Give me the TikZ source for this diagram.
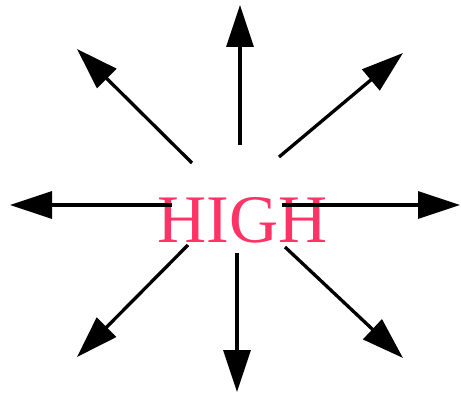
\documentclass[tikz,border=0pt]{standalone}
\usepackage{fontspec}
\setmainfont{Liberation Serif}
\usetikzlibrary{arrows.meta}
\definecolor{highpink}{HTML}{FF3366}

\begin{document}
\begin{tikzpicture}[
  x=1pt, y=-1pt,
  word/.style={anchor=base, inner sep=0pt, text=highpink, font=\fontsize{68}{68}\selectfont},
  ray/.style={->, line width=3.3pt},
  >={Triangle[length=42pt,width=27pt]}
]
\useasboundingbox (0,0) rectangle (461,396);
\node[word] (high) at (242.5,242) {HIGH};
% ray start and end points
\coordinate (nfrom) at (240,145); \coordinate (nto) at (240,5);
\coordinate (nefrom) at (279,157); \coordinate (neto) at (403,53);
\coordinate (efrom) at (282,205); \coordinate (eto) at (460,205);
\coordinate (sefrom) at (285,247); \coordinate (seto) at (403,358);
\coordinate (sfrom) at (237,253); \coordinate (sto) at (237,392);
\coordinate (swfrom) at (188,245); \coordinate (swto) at (77,357);
\coordinate (wfrom) at (172,205); \coordinate (wto) at (10,205);
\coordinate (nwfrom) at (192,163); \coordinate (nwto) at (77,49);
\draw[ray] (nfrom) -- (nto);
\draw[ray] (nefrom) -- (neto);
\draw[ray] (efrom) -- (eto);
\draw[ray] (sefrom) -- (seto);
\draw[ray] (sfrom) -- (sto);
\draw[ray] (swfrom) -- (swto);
\draw[ray] (wfrom) -- (wto);
\draw[ray] (nwfrom) -- (nwto);
\end{tikzpicture}
\end{document}
